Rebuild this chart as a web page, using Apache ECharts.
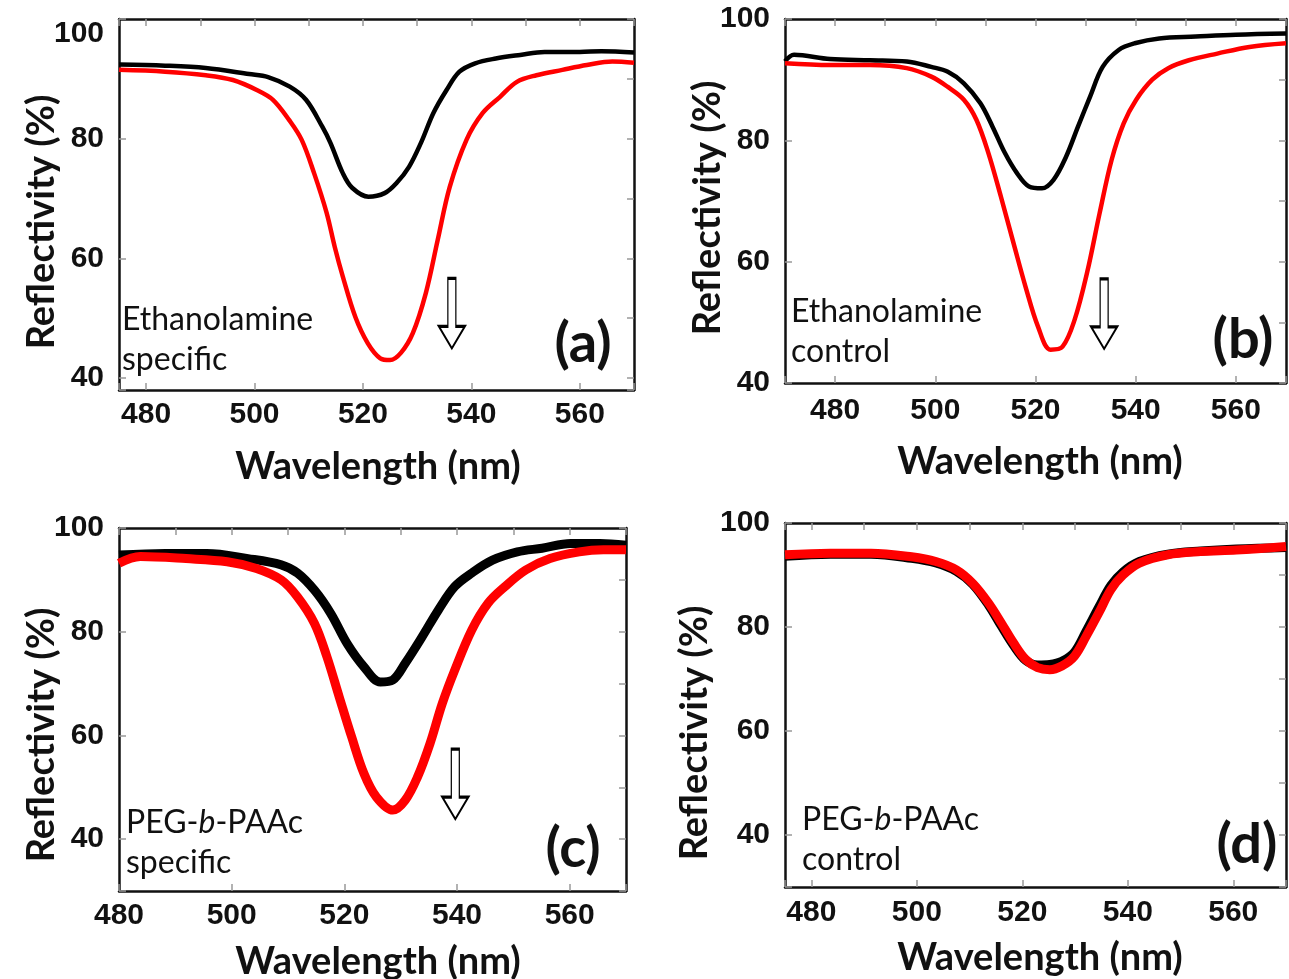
<!DOCTYPE html>
<html>
<head>
<meta charset="utf-8">
<script src="https://cdn.jsdelivr.net/npm/echarts@6/dist/echarts.min.js"></script>
<style>
html,body{margin:0;padding:0;background:#fff;}
#chart{width:1289px;height:979px;}
</style>
</head>
<body>
<div id="chart"></div>
<script>
// ---------- DATA ----------
// Panel (a) Ethanolamine specific
const wlA_black = [475, 483.5, 491, 499, 502.5, 506.5, 509.5, 512.5, 514, 516.3, 518, 521, 524, 526.2, 528.5, 530.7, 533, 535.4, 537.8, 540.7, 544.5, 549, 553.5, 560, 564, 570];
const refA_black = [92.4, 92.2, 91.8, 90.8, 90.3, 88.7, 86.5, 82, 79.3, 74.2, 71.8, 70.3, 70.9, 72.6, 75.3, 79.3, 84.3, 88.1, 91.2, 92.6, 93.4, 94, 94.5, 94.5, 94.6, 94.4];
const wlA_red = [475, 483.5, 491, 496, 500.5, 503.4, 506.4, 508.7, 511, 513.3, 514.8, 516.3, 518.6, 520.9, 523.2, 525, 527, 529.2, 531.6, 533.8, 536, 539.1, 542.1, 545.3, 548.4, 552, 556.8, 561.3, 566, 570];
const refA_red = [91.5, 91.2, 90.6, 89.8, 88.1, 86.5, 83.1, 79.8, 74.2, 67.6, 61.9, 56.9, 50.2, 45.8, 43.3, 43, 44.2, 47.5, 54.2, 63.1, 71.9, 79.8, 84.3, 87, 89.5, 90.6, 91.5, 92.3, 92.9, 92.7];

// Panel (b) Ethanolamine control
const wlB_black = [470, 471.8, 479, 487, 494.3, 499.2, 502.5, 505.7, 509, 511.4, 513.9, 516.3, 518.7, 521.3, 523.6, 526.1, 528.5, 530.9, 533.4, 536.6, 539.8, 544.7, 552, 560, 570];
const refB_black = [93, 94.1, 93.4, 93.2, 93, 92.1, 91.3, 89.4, 86.1, 82.3, 77.9, 74.6, 72.4, 72.1, 73.5, 77.3, 82.3, 87.2, 92.1, 94.9, 96, 96.8, 97.1, 97.4, 97.6];
const wlB_red = [470, 479, 487, 494.3, 499.2, 502.5, 505.7, 508.2, 510.6, 513.1, 515.6, 518, 520.5, 523, 525.4, 527.8, 530.3, 532.8, 535.2, 537.6, 540.1, 543.3, 546.5, 550.6, 556.3, 562.7, 570];
const refB_red = [92.7, 92.4, 92.4, 91.9, 90.5, 88.8, 86.7, 83.4, 77.9, 70.7, 63.1, 55.9, 49.3, 45.5, 46, 50.4, 58.2, 68, 76.8, 82.8, 86.7, 90, 91.9, 93.2, 94.3, 95.4, 96];

// Panel (c) PEG-b-PAAc specific
const wlC_black = [480, 488.2, 495.6, 502.9, 508.8, 511.7, 514.7, 517.6, 520.5, 523.5, 526.4, 528.6, 530.8, 533.8, 536.7, 539.6, 542.6, 546.3, 550.7, 555.1, 560.2, 565.4, 570];
const refC_black = [94.8, 95.1, 95.1, 94.1, 92.9, 91.3, 88, 83.5, 77.7, 73.2, 70.3, 70.7, 73.9, 79, 84.2, 88.7, 91.3, 93.8, 95.4, 96.1, 97, 97, 96.7];
const wlC_red = [480, 483.8, 491.9, 499.2, 504.4, 508.8, 511.7, 514.7, 516.9, 519.1, 521.3, 523.5, 525.7, 528.6, 530.8, 533, 535.2, 537.4, 539.6, 542.6, 545.5, 548.5, 552.2, 556.5, 561.7, 566, 570];
const refC_red = [93.2, 94.5, 94.1, 93.5, 92.2, 90, 86.7, 81.6, 75.2, 67.4, 59.7, 52.6, 48.1, 45.6, 47.5, 52, 58.4, 66.2, 72.6, 80.3, 85.5, 88.7, 91.9, 94.1, 95.4, 95.8, 95.8];

// Panel (d) PEG-b-PAAc control
const wlD_black = [475, 483.6, 491.3, 499, 503.6, 507.5, 510.6, 513.6, 516, 518.3, 520.6, 522.9, 525.2, 527.5, 529.9, 532.1, 534.5, 536.8, 539.1, 542.2, 547.6, 553.8, 560.6, 570];
const refD_black = [93.6, 94, 94, 93.2, 92.3, 90.7, 88.2, 84.2, 80.2, 76.5, 73.6, 72.7, 72.8, 73.4, 75.2, 79.2, 83.8, 88, 90.6, 92.6, 94, 94.6, 95, 95.3];
const wlD_red = [475, 483.6, 491.3, 499, 503.6, 507.5, 510.6, 513.6, 516, 518.3, 520.6, 522.9, 525.2, 527.5, 529.9, 532.1, 534.5, 536.8, 539.1, 542.2, 547.6, 553.8, 560.6, 570];
const refD_red = [93.9, 94.2, 94.2, 93.5, 92.6, 91, 88.4, 84.6, 80.8, 77, 73.8, 72.2, 71.8, 72.5, 74.4, 78.2, 82.7, 87.2, 90, 92.3, 93.9, 94.5, 94.8, 95.5];

// Axis tick labels
const xTickLabels = [480, 500, 520, 540, 560];
const yTickLabels = [40, 60, 80, 100];

// Texts
const xTitle = 'Wavelength (nm)';
const yTitle = 'Reflectivity (%)';
const panelTags = ['(a)', '(b)', '(c)', '(d)'];

// ---------- CHART ----------
const zip = (xs, ys) => xs.map((x, i) => [x, ys[i]]);

const panels = [
  {grid:{left:119, top:19, width:515, height:371}, x:[475,570], y:[38,100], yTop:true, labelMarginX:10,
   black:zip(wlA_black, refA_black), red:zip(wlA_red, refA_red), lw:4.5, arrow:[536.4, 50.8]},
  {grid:{left:785, top:19, width:510, height:364}, x:[470,570], y:[40,100], yTop:false, labelMarginX:13,
   black:zip(wlB_black, refB_black), red:zip(wlB_red, refB_red), lw:4.5, arrow:[533.7, 51.4]},
  {grid:{left:119, top:528, width:507, height:363}, x:[480,570], y:[30,100], yTop:false, labelMarginX:10,
   black:zip(wlC_black, refC_black), red:zip(wlC_red, refC_red), lw:9, arrow:[539.7, 50.6]},
  {grid:{left:785, top:523, width:511, height:364}, x:[475,570], y:[30,100], yTop:false, labelMarginX:11,
   black:zip(wlD_black, refD_black), red:zip(wlD_red, refD_red), lw:9, arrow:null}
];

const frameLine = {show:true, onZero:false, lineStyle:{color:'#111', width:2.5}};
const tickStyle = {show:true, inside:true, length:7, lineStyle:{color:'#999', width:1.5}};
const tickFont = {color:'#111', fontFamily:'Liberation Sans, Arial, sans-serif', fontWeight:'bold', fontSize:30};

const grids = [], xAxes = [], yAxes = [], series = [];
const arrowPath = 'path://M9,0 L17,0 L17,48 L26,48 L13,70 L0,48 L9,48 Z';

panels.forEach((p, i) => {
  grids.push(Object.assign({containLabel:false}, p.grid));
  const xr = p.x[1]-p.x[0], yr = p.y[1]-p.y[0];
  xAxes.push({type:'value', gridIndex:i, position:'bottom', min:p.x[0], max:p.x[1],
    splitNumber: Math.round(xr/20), axisLine:frameLine, axisTick:tickStyle, splitLine:{show:false},
    axisLabel:Object.assign({margin:p.labelMarginX,
      formatter: v => xTickLabels.indexOf(v) >= 0 ? String(v) : ''}, tickFont)});
  xAxes.push({type:'value', gridIndex:i, position:'top', min:p.x[0], max:p.x[1],
    splitNumber: Math.round(xr/10), axisLine:frameLine, axisTick:tickStyle, splitLine:{show:false},
    axisLabel:{show:false}});
  yAxes.push({type:'value', gridIndex:i, position:'left', min:p.y[0], max:p.y[1],
    splitNumber: Math.floor(yr/20), axisLine:frameLine, axisTick:tickStyle, splitLine:{show:false},
    axisLabel:Object.assign({margin:15, verticalAlignMaxLabel: p.yTop ? 'top' : 'middle',
      formatter: v => yTickLabels.indexOf(v) >= 0 ? String(v) : ''}, tickFont)});
  yAxes.push({type:'value', gridIndex:i, position:'right', min:p.y[0], max:p.y[1],
    splitNumber: Math.floor(yr/10), axisLine:frameLine, axisTick:tickStyle, splitLine:{show:false},
    axisLabel:{show:false}});

  series.push({type:'line', xAxisIndex:2*i, yAxisIndex:2*i, data:p.black, showSymbol:false,
    smooth:0.35, lineStyle:{color:'#000', width:p.lw}, z:2, silent:true});
  const red = {type:'line', xAxisIndex:2*i, yAxisIndex:2*i, data:p.red, showSymbol:false,
    smooth:0.35, lineStyle:{color:'#ff0000', width:p.lw}, z:3, silent:true};
  if (p.arrow) {
    red.markPoint = {silent:true, symbol:arrowPath, symbolSize:[26,70], symbolKeepAspect:false,
      itemStyle:{color:'#fff', borderColor:'#000', borderWidth:2},
      label:{show:false}, data:[{coord:p.arrow}]};
  }
  series.push(red);
});

const titleFont = 'bold 38px Lato, "Noto Sans", sans-serif';
const annFont = '32px Lato, "Noto Sans", sans-serif';
const annFontI = 'italic 32px Lato, "Noto Sans", sans-serif';
const tagFont = 'bold 56px Lato, "Noto Sans", sans-serif';

const yTitlePos = [[42,222],[708,208],[42,735],[695,733]];
const xTitlePos = [[378,467],[1040,462],[378,962],[1040,958]];
const tagPos = [[583,344],[1243,340],[573,849],[1247,845]];
const annPos = [[122,320],[791,312],[126,823],[802,820]];
const annText = [
  '{n|Ethanolamine}\n{n|specific}',
  '{n|Ethanolamine}\n{n|control}',
  '{n|PEG-}{i|b}{n|-PAAc}\n{n|specific}',
  '{n|PEG-}{i|b}{n|-PAAc}\n{n|control}'
];

const graphic = [];
for (let i = 0; i < 4; i++) {
  graphic.push({type:'text', x:yTitlePos[i][0], y:yTitlePos[i][1], rotation:Math.PI/2, z:10,
    style:{text:yTitle, font:titleFont, fill:'#111', align:'center', verticalAlign:'middle'}});
  graphic.push({type:'text', x:xTitlePos[i][0], y:xTitlePos[i][1], z:10,
    style:{text:xTitle, font:titleFont, fill:'#111', align:'center', verticalAlign:'middle'}});
  graphic.push({type:'text', x:tagPos[i][0], y:tagPos[i][1], z:10,
    style:{text:panelTags[i], font:tagFont, fill:'#111', align:'center', verticalAlign:'middle'}});
  graphic.push({type:'text', x:annPos[i][0], y:annPos[i][1] - 20, z:10,
    style:{text:annText[i], fill:'#111', align:'left', verticalAlign:'top', lineHeight:40,
      rich:{n:{font:annFont, fill:'#111', lineHeight:40}, i:{font:annFontI, fill:'#111', lineHeight:40}}}});
}

const chart = echarts.init(document.getElementById('chart'), null, {renderer:'canvas', width:1289, height:979});
chart.setOption({
  animation:false,
  backgroundColor:'#fff',
  grid:grids, xAxis:xAxes, yAxis:yAxes, series:series, graphic:graphic
});
</script>
</body>
</html>
